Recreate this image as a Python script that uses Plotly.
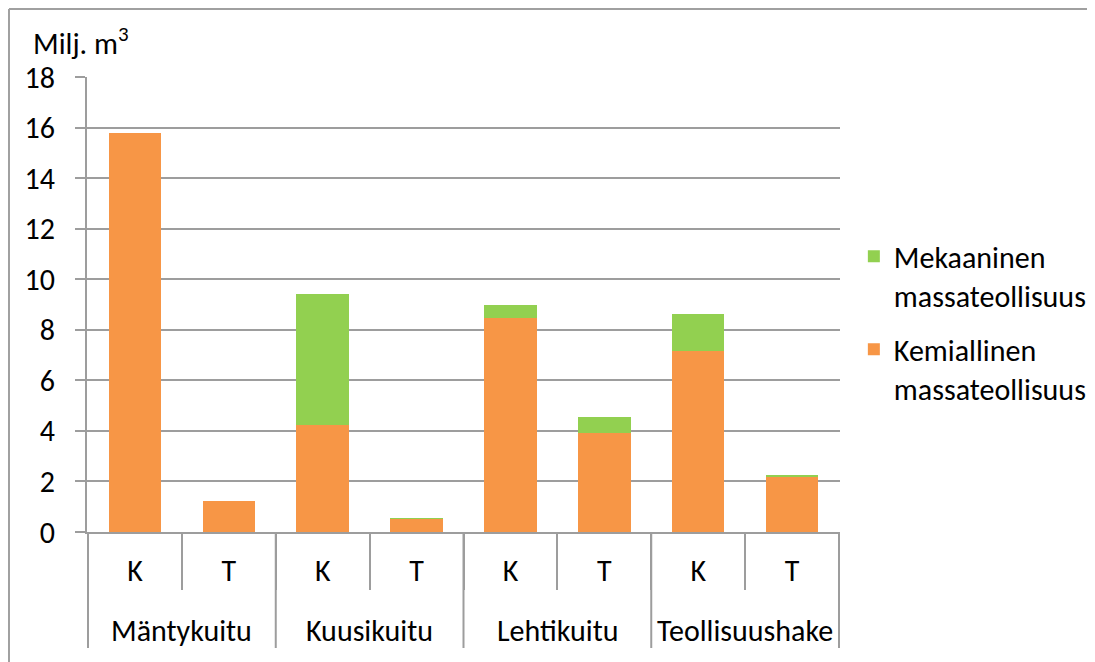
import plotly.graph_objects as go

groups = ["Mäntykuitu", "Mäntykuitu", "Kuusikuitu", "Kuusikuitu",
          "Lehtikuitu", "Lehtikuitu", "Teollisuushake", "Teollisuushake"]
subcats = ["K", "T", "K", "T", "K", "T", "K", "T"]
kemiallinen = [15.8, 1.21, 4.23, 0.52, 8.46, 3.9, 7.15, 2.2]
mekaaninen = [0.0, 0.0, 5.19, 0.02, 0.53, 0.65, 1.48, 0.03]
y_ticks = [0, 2, 4, 6, 8, 10, 12, 14, 16, 18]

FONT = "Carlito, Calibri, Lato, sans-serif"
GRID = "#9d9d9d"
FS = 30

cats = [f"{g} {s}" for g, s in zip(groups, subcats)]

fig = go.Figure()
fig.add_trace(go.Bar(x=cats, y=kemiallinen,
                     name="Kemiallinen<br>massateollisuus",
                     marker=dict(color="#F79646", line=dict(width=0)),
                     legendgroup="kem", legendrank=2))
fig.add_trace(go.Bar(x=cats, y=mekaaninen,
                     name="Mekaaninen<br>massateollisuus",
                     marker=dict(color="#92D050", line=dict(width=0)),
                     legendgroup="mek", legendrank=1))

# group label positions and group boundaries, in category index units
group_names = list(dict.fromkeys(groups))
annotations = []
shapes = []
boundaries = [-0.5]
for gname in group_names:
    idx = [i for i, g in enumerate(groups) if g == gname]
    annotations.append(dict(text=gname, xref="x", yref="paper",
                            x=sum(idx) / len(idx), y=-0.2154,
                            xanchor="center", yanchor="middle",
                            showarrow=False, font=dict(size=FS)))
    boundaries.append(idx[-1] + 0.5)
for b in boundaries:
    shapes.append(dict(type="line", xref="x", yref="paper", x0=b, x1=b,
                       y0=0, y1=-0.255, line=dict(color=GRID, width=2)))

annotations.append(dict(text="Milj. m<sup>3</sup>", xref="paper", yref="paper",
                        x=-0.074, y=1.077, xanchor="left", yanchor="middle",
                        showarrow=False, font=dict(size=FS)))
# chart frame
shapes += [
    dict(type="line", xref="paper", yref="paper", x0=-0.1036, x1=1.5,
         y0=1.1495, y1=1.1495, line=dict(color="#a0a0a0", width=2)),
    dict(type="line", xref="paper", yref="paper", x0=-0.1036, x1=-0.1036,
         y0=1.1495, y1=-0.4, line=dict(color="#a0a0a0", width=2)),
]

fig.update_layout(
    width=1087, height=654,
    margin=dict(l=79, r=255, t=69, b=130, autoexpand=False),
    barmode="stack", bargap=0.44,
    plot_bgcolor="white", paper_bgcolor="white",
    font=dict(family=FONT, size=FS, color="black"),
    legend=dict(x=1.0184, y=0.663, xanchor="left", yanchor="top",
                traceorder="grouped", tracegroupgap=12, valign="top",
                font=dict(size=FS), itemwidth=30),
    xaxis=dict(type="category", tickvals=cats, ticktext=subcats,
               showline=True, linecolor=GRID, linewidth=2,
               ticks="outside", tickson="boundaries", ticklen=56,
               tickcolor=GRID, tickwidth=2, automargin=False,
               ticklabelstandoff=11, tickfont=dict(size=FS)),
    yaxis=dict(range=[0, 18], tickvals=y_ticks, showgrid=True, gridcolor=GRID,
               gridwidth=2, showline=True, linecolor=GRID, linewidth=2,
               ticks="outside", ticklen=10, tickcolor=GRID, tickwidth=2,
               ticklabelstandoff=14, zeroline=False, automargin=False,
               tickfont=dict(size=FS)),
    annotations=annotations,
    shapes=shapes,
)

fig.write_html("out.html")
